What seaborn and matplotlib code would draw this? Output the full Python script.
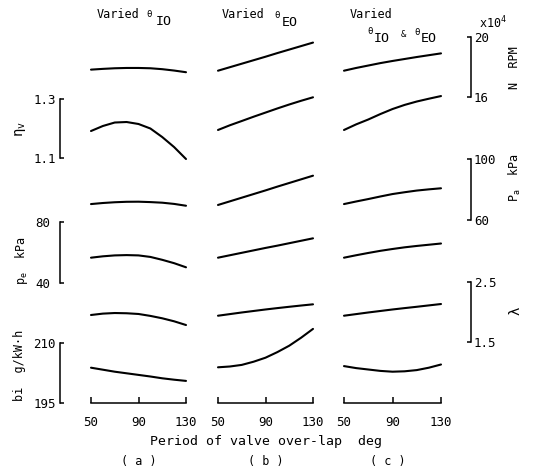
import matplotlib
matplotlib.use("Agg")
import matplotlib.pyplot as plt
import seaborn as sns

# ---------------- data ----------------
overlap = [50, 60, 70, 80, 90, 100, 110, 120, 130]   # deg
panels = ["a", "b", "c"]

N_a = [17.82, 17.87, 17.91, 17.93, 17.93, 17.91, 17.85, 17.76, 17.65]
N_b = [17.75, 17.98, 18.21, 18.44, 18.67, 18.91, 19.14, 19.37, 19.60]
N_c = [17.75, 17.93, 18.09, 18.25, 18.39, 18.52, 18.65, 18.77, 18.89]

eta_a = [1.1925, 1.2095, 1.2213, 1.223, 1.2163, 1.201, 1.172, 1.138, 1.0976]
eta_b = [1.196, 1.212, 1.2264, 1.241, 1.255, 1.269, 1.2824, 1.295, 1.3068]
eta_c = [1.196, 1.215, 1.2315, 1.250, 1.267, 1.281, 1.2925, 1.302, 1.311]

Pa_a = [70.5, 71.2, 71.7, 72.0, 72.06, 71.8, 71.4, 70.6, 69.4]
Pa_b = [69.9, 72.3, 74.7, 77.1, 79.5, 82.0, 84.4, 86.8, 89.2]
Pa_c = [70.5, 72.2, 73.8, 75.5, 77.1, 78.3, 79.4, 80.2, 80.9]

pe_a = [56.4, 57.3, 57.9, 58.1, 57.9, 56.9, 55.0, 52.8, 50.1]
pe_b = [56.4, 58.0, 59.6, 61.2, 62.8, 64.3, 65.9, 67.5, 69.1]
pe_c = [56.4, 58.0, 59.5, 60.9, 62.1, 63.2, 64.1, 64.9, 65.7]

lam_a = [1.945, 1.968, 1.978, 1.974, 1.962, 1.93, 1.89, 1.84, 1.778]
lam_b = [1.933, 1.96, 1.987, 2.012, 2.037, 2.06, 2.082, 2.103, 2.123]
lam_c = [1.933, 1.96, 1.987, 2.012, 2.037, 2.06, 2.082, 2.105, 2.128]

bi_a = [203.9, 203.4, 202.9, 202.5, 202.1, 201.7, 201.25, 200.9, 200.6]
bi_b = [204.0, 204.2, 204.6, 205.4, 206.4, 207.8, 209.4, 211.4, 213.6]
bi_c = [204.3, 203.8, 203.45, 203.1, 202.9, 203.0, 203.3, 203.9, 204.7]

variables = ["N", "eta", "Pa", "pe", "lam", "bi"]
series = {
    "N": [N_a, N_b, N_c],
    "eta": [eta_a, eta_b, eta_c],
    "Pa": [Pa_a, Pa_b, Pa_c],
    "pe": [pe_a, pe_b, pe_c],
    "lam": [lam_a, lam_b, lam_c],
    "bi": [bi_a, bi_b, bi_c],
}
scale_limits = {"N": (16, 20), "eta": (1.1, 1.3), "Pa": (60, 100),
                "pe": (40, 80), "lam": (1.5, 2.5), "bi": (195, 210)}
scale_labels = {"N": ["16", "20"], "eta": ["1.1", "1.3"], "Pa": ["60", "100"],
                "pe": ["40", "80"], "lam": ["1.5", "2.5"], "bi": ["195", "210"]}
x_ticks = [50, 90, 130]
x_ticklabels = ["50", "90", "130"]

# ---------------- layout (pixels) ----------------
W, H = 541, 474
sns.set_theme(style="white")
plt.rcParams["font.family"] = ["DejaVu Sans Mono", "DejaVu Sans"]
plt.rcParams["mathtext.fontset"] = "custom"
plt.rcParams["mathtext.rm"] = "DejaVu Sans Mono"
plt.rcParams["mathtext.it"] = "DejaVu Sans Mono"
plt.rcParams["mathtext.bf"] = "DejaVu Sans Mono:bold"
plt.rcParams["text.color"] = "black"

fig = plt.figure(figsize=(W / 100, H / 100), dpi=100)
fig.patch.set_facecolor("white")


def fx(px):
    return px / W


def fy(py):
    return 1 - py / H


col_px = [(91, 186), (218, 313), (344, 441)]
bands = {"N": (36.5, 97.3), "eta": (99.3, 158.3), "Pa": (159.3, 220.0),
         "pe": (221.7, 282.7), "lam": (281.7, 341.7), "bi": (343.3, 403.3)}
side = {"N": "right", "eta": "left", "Pa": "right", "pe": "left",
        "lam": "right", "bi": "left"}
lpad = {"eta": 3, "pe": 7, "bi": 3}

for ci, (x0, x1) in enumerate(col_px):
    for var in variables:
        top, bot = bands[var]
        ax = fig.add_axes([fx(x0), fy(bot), (x1 - x0) / W, (bot - top) / H])
        ax.set_facecolor("none")
        sns.lineplot(x=overlap, y=series[var][ci], ax=ax, color="black",
                     linewidth=1.5, clip_on=False, solid_joinstyle="round",
                     solid_capstyle="round")
        ax.set_xlim(50, 130)
        ax.set_ylim(*scale_limits[var])
        for s in ax.spines.values():
            s.set_visible(False)
        ax.set_yticks([])
        ax.set_xlabel("")
        ax.set_ylabel("")
        if var == "bi":
            ax.spines["bottom"].set_visible(True)
            ax.spines["bottom"].set_color("black")
            ax.spines["bottom"].set_linewidth(1.1)
            ax.set_xticks(x_ticks, labels=x_ticklabels)
            ax.tick_params(axis="x", direction="in", length=4, width=1.1,
                           pad=9, labelsize=9, colors="black", bottom=True)
        else:
            ax.set_xticks([])

# scale brackets
for var in variables:
    top, bot = bands[var]
    lo, hi = scale_limits[var]
    if side[var] == "left":
        bx = 60
        bax = fig.add_axes([fx(bx), fy(bot), 6 / W, (bot - top) / H])
    else:
        bx = 471
        bax = fig.add_axes([fx(bx - 6), fy(bot), 6 / W, (bot - top) / H])
    bax.set_facecolor("none")
    bax.set_ylim(lo, hi)
    bax.set_xticks([])
    for s in bax.spines.values():
        s.set_visible(False)
    sp = bax.spines[side[var]]
    sp.set_visible(True)
    sp.set_color("black")
    sp.set_linewidth(1.1)
    bax.set_yticks([lo, hi], labels=scale_labels[var])
    if side[var] == "right":
        bax.yaxis.tick_right()
        pad = 2
    else:
        bax.yaxis.tick_left()
        pad = lpad[var]
    bax.tick_params(axis="y", direction="in", length=3, width=1.1,
                    pad=pad, labelsize=9, colors="black")

# titles
def txt(x, y, s, size, **kw):
    fig.text(fx(x), fy(y), s, fontsize=size, va="center", **kw)

txt(96.5, 14.7, "Varied", 8.5)
txt(146.5, 14.5, "θ", 6.5)
txt(156, 21.5, "IO", 9.5)

txt(221.5, 14.7, "Varied", 8.5)
txt(274.5, 15.5, "θ", 6.5)
txt(281.5, 22.0, "EO", 9.5)

txt(350, 14.2, "Varied", 8.5)
txt(367.5, 32.0, "θ", 6.5)
txt(374, 38.5, "IO", 9.5)
txt(400.5, 34.5, "&", 6.5)
txt(414, 32.5, "θ", 6.5)
txt(421, 38.5, "EO", 9.5)

# axis labels
txt(479, 23, r"x10$^{4}$", 8.5)
txt(515, 67.5, "N  RPM", 8.5, rotation=90, ha="center")
txt(515, 177.5, r"$\mathrm{P_a}$  kPa", 8.5, rotation=90, ha="center")
txt(516, 311, "λ", 10, rotation=90, ha="center")

txt(20, 129, r"$\mathrm{\eta_v}$", 10, rotation=90, ha="center")
txt(21, 260.5, r"$\mathrm{p_e}$  kPa", 8.5, rotation=90, ha="center")
txt(20, 365, "bi  g/kW·h", 8.5, rotation=90, ha="center")

txt(266, 442, "Period of valve over-lap  deg", 9.5, ha="center")
txt(138.5, 462, "( a )", 8.5, ha="center")
txt(265.5, 462, "( b )", 8.5, ha="center")
txt(388, 462, "( c )", 8.5, ha="center")

fig.savefig("out.png", dpi=100, facecolor="white")
